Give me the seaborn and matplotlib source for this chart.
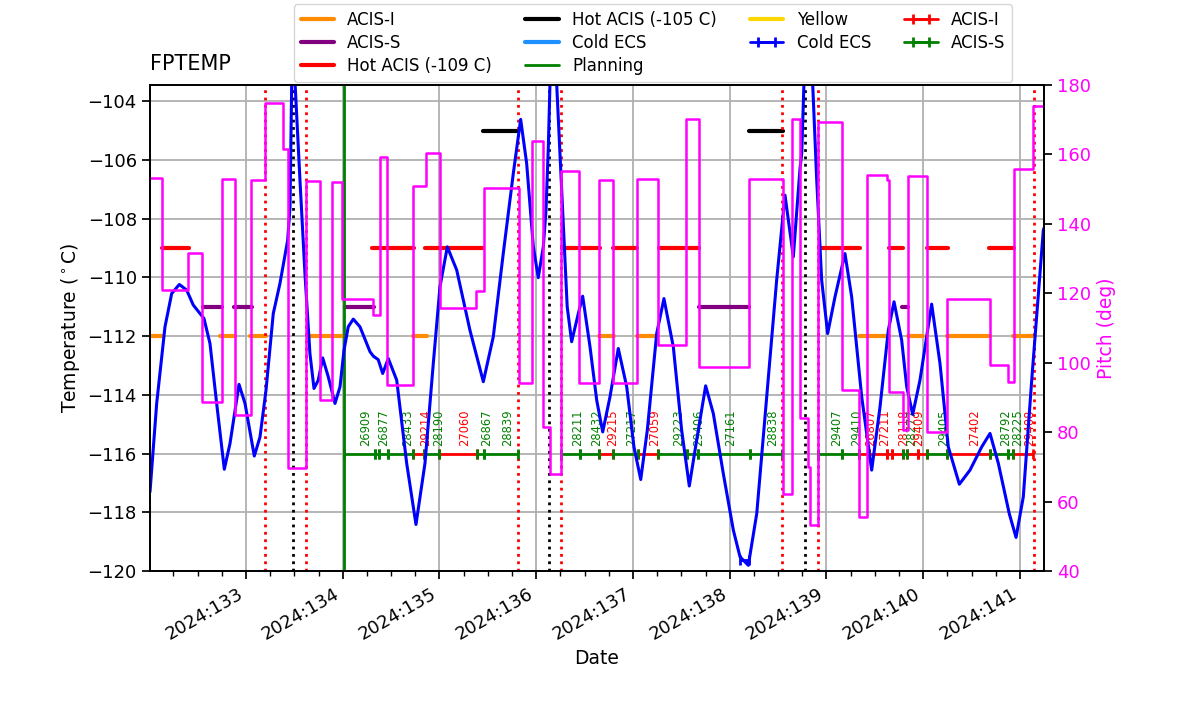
import numpy as np
import matplotlib
matplotlib.use('Agg')
import matplotlib.pyplot as plt
from matplotlib.ticker import MultipleLocator
import seaborn as sns

# FPTEMP model (day of year 2024, deg C)
temp_time = [132.008, 132.077, 132.163, 132.232, 132.311, 132.387, 132.455, 132.525, 132.566, 132.628,
             132.697, 132.776, 132.835, 132.928, 132.990, 133.086, 133.145, 133.207, 133.282, 133.351,
             133.431, 133.455, 133.472, 133.489, 133.506, 133.558, 133.610, 133.661, 133.703, 133.747,
             133.793, 133.851, 133.920, 133.972, 134.013, 134.057, 134.109, 134.178, 134.282, 134.316,
             134.367, 134.413, 134.471, 134.558, 134.661, 134.757, 134.850, 134.936, 135.005, 135.081,
             135.178, 135.315, 135.453, 135.556, 135.659, 135.763, 135.839, 135.901, 135.970, 136.021,
             136.073, 136.101, 136.125, 136.142, 136.173, 136.211, 136.263, 136.320, 136.366, 136.435,
             136.480, 136.556, 136.625, 136.687, 136.762, 136.848, 136.935, 137.010, 137.080, 137.148,
             137.245, 137.320, 137.417, 137.503, 137.582, 137.658, 137.751, 137.830, 137.933, 138.037,
             138.106, 138.192, 138.279, 138.382, 138.485, 138.571, 138.657, 138.726, 138.744, 138.767,
             138.808, 138.857, 138.899, 138.950, 139.012, 139.088, 139.191, 139.260, 139.364, 139.467,
             139.553, 139.639, 139.698, 139.777, 139.829, 139.891, 139.966, 140.087, 140.173, 140.259,
             140.373, 140.483, 140.604, 140.690, 140.776, 140.889, 140.959, 141.034, 141.121, 141.241,
             141.248]
temp_vals = [-117.30, -114.29, -111.68, -110.55, -110.24, -110.43, -110.94, -111.23, -111.40, -112.25,
             -114.29, -116.53, -115.65, -113.64, -114.29, -116.08, -115.43, -113.84, -111.23, -110.21,
             -108.73, -107.60, -103.51, -101.8, -103.3, -106.69, -109.9, -112.59, -113.78, -113.50,
             -112.74, -113.39, -114.29, -113.72, -112.48, -111.68, -111.42, -111.68, -112.53, -112.68,
             -112.80, -113.27, -112.76, -113.50, -116.33, -118.41, -116.33, -112.93, -110.32, -108.96,
             -109.75, -111.80, -113.55, -112.02, -109.19, -106.46, -104.62, -106.12, -108.96, -110.01,
             -108.96, -107.71, -105.56, -103.4, -101.5, -103.4, -107.0, -111.0, -112.19, -111.23,
             -110.64, -112.37, -114.18, -115.26, -114.07, -112.42, -113.72, -115.77, -116.88, -115.20,
             -111.91, -110.72, -112.37, -115.20, -117.10, -115.54, -113.69, -114.63, -116.67, -118.60,
             -119.51, -119.80, -118.04, -114.07, -110.09, -107.20, -109.30, -106.3, -105.78, -103.4,
             -101.5, -103.4, -106.69, -110.09, -111.91, -110.66, -109.19, -110.66, -114.07, -116.56,
             -114.41, -111.80, -110.83, -112.14, -113.72, -114.66, -113.50, -110.91, -112.93, -115.77,
             -117.04, -116.56, -115.77, -115.31, -116.33, -118.04, -118.85, -117.47, -113.50, -108.39,
             -108.32]

# pitch (deg), value holds from each time to the next
pitch_time = [132.008, 132.129, 132.404, 132.548, 132.749, 132.886, 133.057, 133.196, 133.386, 133.431,
              133.620, 133.765, 133.889, 133.992, 134.316, 134.385, 134.454, 134.729, 134.860, 135.005,
              135.377, 135.460, 135.825, 135.953, 136.073, 136.142, 136.256, 136.445, 136.652, 136.790,
              137.044, 137.262, 137.548, 137.682, 138.202, 138.547, 138.640, 138.726, 138.812, 138.829,
              138.915, 139.157, 139.336, 139.422, 139.628, 139.646, 139.791, 139.845, 140.036, 140.249,
              140.690, 140.879, 140.938, 141.137, 141.248]
pitch_vals = [153.3, 121.1, 131.5, 88.8, 152.9, 85.1, 152.6, 174.9, 161.5, 69.6,
              152.3, 89.3, 152.1, 118.5, 113.7, 159.2, 93.6, 150.9, 160.3, 115.9,
              120.7, 150.2, 94.1, 163.9, 81.6, 68.1, 155.3, 94.2, 152.6, 94.2,
              152.9, 105.1, 170.1, 98.9, 152.9, 62.1, 170.1, 84.0, 70.0, 53.3,
              169.4, 92.1, 55.6, 154.1, 152.5, 91.5, 80.6, 153.8, 80.1, 118.5,
              99.5, 94.5, 155.7, 174.0, 174.0]

# limit segments (start, stop)
acis_i_limit = -112
acis_i_spans = [(132.008, 132.142), (132.731, 132.886), (133.041, 133.207), (133.641, 134.013),
                (134.723, 134.868), (136.649, 136.807), (137.041, 137.245), (139.336, 139.622),
                (139.839, 140.000), (140.242, 140.690), (140.931, 141.137)]
acis_s_limit = -111
acis_s_spans = [(132.552, 132.749), (132.876, 133.059), (134.023, 134.323), (137.679, 138.202),
                (139.777, 139.845)]
hot109_limit = -109
hot109_spans = [(132.129, 132.414), (134.305, 134.740), (134.850, 135.453), (136.266, 136.659),
                (136.793, 137.041), (137.269, 137.682), (138.922, 139.346), (139.646, 139.791),
                (140.036, 140.253), (140.680, 140.938)]
hot105_limit = -105
hot105_spans = [(135.453, 135.814), (138.202, 138.547)]
cold_ecs_spans = []
yellow_spans = []

red_dotted_times = [133.196, 133.625, 135.811, 136.261, 138.545, 138.912, 141.140]
black_dotted_times = [133.491, 136.137, 138.778]
planning_time = 134.008

# cold ECS measurement
cold_ecs_start = [138.110]
cold_ecs_stop = [138.200]
cold_ecs_temp = [-119.62]

# observations
obsid_start = [134.008, 134.333, 134.378, 134.471, 134.729, 134.843, 134.998, 135.388, 135.460,
               136.261, 136.452, 136.652, 136.790, 137.055, 137.262, 137.555, 137.675, 138.209,
               138.915, 139.157, 139.339, 139.436, 139.628, 139.674, 139.788, 139.835, 139.943,
               140.036, 140.242, 140.690, 140.879, 140.931]
obsid_stop = [134.333, 134.378, 134.471, 134.729, 134.843, 134.998, 135.388, 135.460, 135.814,
              136.452, 136.652, 136.790, 137.055, 137.262, 137.555, 137.675, 138.209, 138.545,
              139.157, 139.339, 139.436, 139.628, 139.674, 139.788, 139.835, 139.943, 140.036,
              140.242, 140.690, 140.879, 140.931, 141.137]
obsid_ids = ['26909', '26877', '', '28433', '29214', '28190', '27060', '26867', '28839',
             '28211', '28432', '29215', '27217', '27059', '29223', '29406', '27161', '28838',
             '29407', '29410', '26807', '27211', '', '28118', '28277', '29409', '',
             '29405', '27402', '28792', '28225', '29408']
obsid_inst = ['S', 'S', 'S', 'S', 'I', 'S', 'I', 'S', 'S',
              'S', 'S', 'I', 'S', 'I', 'S', 'S', 'S', 'S',
              'S', 'S', 'I', 'I', 'I', 'I', 'S', 'I', 'I',
              'S', 'I', 'S', 'S', 'I']
obsid_level = -116

day_ticks = list(range(133, 142))


def spans_xy(spans, level):
    xs, ys = [], []
    for a, b in spans:
        xs += [a, b, np.nan]
        ys += [level, level, np.nan]
    return xs, ys


sns.set_theme(context='notebook', style='ticks',
              rc={'text.color': 'black', 'axes.labelcolor': 'black', 'axes.edgecolor': 'black',
                  'xtick.color': 'black', 'ytick.color': 'black'})

fig, ax = plt.subplots(figsize=(12, 7.14), dpi=100)
fig.subplots_adjust(left=0.125, right=0.87, bottom=0.2, top=0.881)

lw_lim = 3
for spans, level, color, label in [(acis_i_spans, acis_i_limit, 'darkorange', 'ACIS-I'),
                                   (acis_s_spans, acis_s_limit, 'purple', 'ACIS-S'),
                                   (hot109_spans, hot109_limit, 'red', 'Hot ACIS (-109 C)'),
                                   (hot105_spans, hot105_limit, 'black', 'Hot ACIS (-105 C)'),
                                   (cold_ecs_spans, -119, 'dodgerblue', 'Cold ECS')]:
    xs, ys = spans_xy(spans, level)
    ax.plot(xs, ys, color=color, lw=lw_lim, label=label)
ax.axvline(planning_time, color='green', lw=2, label='Planning')
xs, ys = spans_xy(yellow_spans, -110)
ax.plot(xs, ys, color='gold', lw=lw_lim, label='Yellow')

for t in red_dotted_times:
    ax.axvline(t, color='red', ls=':', lw=2)
for t in black_dotted_times:
    ax.axvline(t, color='black', ls=':', lw=2)

bar_kw = dict(fmt='-', elinewidth=2, capsize=3.5, capthick=2, lw=2)

# cold ECS errorbar
for a, b, t in zip(cold_ecs_start, cold_ecs_stop, cold_ecs_temp):
    ax.errorbar([(a + b) / 2], [t], xerr=[(b - a) / 2], color='blue', label='Cold ECS',
                zorder=4, **bar_kw)

# observation bars, one errorbar per obsid
inst_color = {'I': 'red', 'S': 'green'}
for key, label in [('I', 'ACIS-I'), ('S', 'ACIS-S')]:
    first = True
    for a, b, k in zip(obsid_start, obsid_stop, obsid_inst):
        if k != key:
            continue
        ax.errorbar([(a + b) / 2], [obsid_level], xerr=[(b - a) / 2], color=inst_color[key],
                    label=label if first else None, zorder=3, **bar_kw)
        first = False
for a, b, oid, k in zip(obsid_start, obsid_stop, obsid_ids, obsid_inst):
    if oid:
        ax.text((a + b) / 2, obsid_level + 0.27, oid, rotation=90, ha='left', va='bottom',
                color=inst_color[k], fontsize=8.3, zorder=3)

sns.lineplot(x=temp_time, y=temp_vals, ax=ax, color='blue', lw=2.2, estimator=None,
             sort=False, label='_fptemp', zorder=5)

ax.set_xlim(132.008, 141.248)
ax.set_ylim(-120, -103.45)
ax.set_yticks(np.arange(-120, -103, 2))
ax.set_xticks(day_ticks)
ax.set_xticklabels([f'2024:{d}' for d in day_ticks], rotation=30, ha='right')
ax.xaxis.set_minor_locator(MultipleLocator(0.25))
ax.tick_params(axis='both', which='major', labelsize=13, length=6, width=1.25)
ax.tick_params(axis='x', which='minor', length=3.5, width=1)
ax.grid(True, which='major', color='#b0b0b0', lw=1.3)
ax.set_xlabel('Date', fontsize=13.5)
ax.set_ylabel('Temperature ($^\\circ$C)', fontsize=13.5)
ax.set_title('FPTEMP', loc='left', fontsize=15, pad=11)

ax.legend(loc='lower center', bbox_to_anchor=(0.5626, 1.0), ncol=4, fontsize=12,
          borderaxespad=0.2, labelspacing=0.3)

ax2 = ax.twinx()
sns.lineplot(x=pitch_time, y=pitch_vals, ax=ax2, color='magenta', lw=1.8, estimator=None,
             drawstyle='steps-post', label='_pitch')
ax2.set_ylim(40, 180)
ax2.set_yticks(np.arange(40, 181, 20))
ax2.tick_params(axis='y', labelsize=13, labelcolor='magenta', length=6, width=1.25)
ax2.set_ylabel('Pitch (deg)', color='magenta', fontsize=13.5)
ax2.grid(False)
ax2.set_xlim(132.008, 141.248)

fig.savefig('out.png', dpi=100)
